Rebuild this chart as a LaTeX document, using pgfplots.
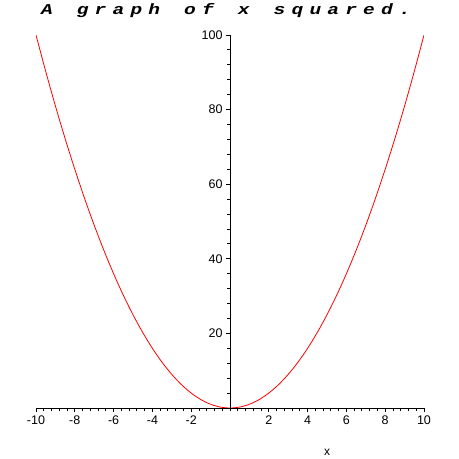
\documentclass[border=0pt]{standalone}
\usepackage{graphicx}
\usepackage{pgfplots}
\pgfplotsset{compat=1.18}
\usepackage{fontspec}
\setmainfont{Liberation Sans}
\newfontfamily\titlefont{Liberation Mono}
% one fixed-width cell per title character, glyphs widened a little
\newcommand\tc[1]{\makebox[17.9pt]{\scalebox{1.3}[1]{#1}}}

\begin{document}
\begin{tikzpicture}
\useasboundingbox (-36pt,-51pt) rectangle (423pt,408pt);
\begin{axis}[
  at={(0pt,0pt)}, anchor=south west,
  scale only axis, width=388pt, height=373pt,
  xmin=-10, xmax=10, ymin=0, ymax=100,
  axis lines=middle, axis line style={-, line width=0.9pt},
  axis on top,
  xtick={-10,-8,-6,-4,-2,2,4,6,8,10},
  xticklabels={-10,-8,-6,-4,-2,2,4,6,8,10},
  ytick={20,40,60,80,100},
  yticklabels={20,40,60,80,100},
  minor xtick={-9.6,-9.2,...,9.7},
  minor ytick={4,8,...,96},
  tick align=outside,
  major tick length=4pt, minor tick length=2.5pt,
  every tick/.style={black, line width=0.9pt},
  tick label style={font=\fontsize{12.5}{14}\selectfont},
]
\addplot[red, line width=0.8pt, smooth] coordinates {
  (-10,100) (-9.5,90.25) (-9,81) (-8.5,72.25) (-8,64) (-7.5,56.25)
  (-7,49) (-6.5,42.25) (-6,36) (-5.5,30.25) (-5,25) (-4.5,20.25)
  (-4,16) (-3.5,12.25) (-3,9) (-2.5,6.25) (-2,4) (-1.5,2.25)
  (-1,1) (-0.5,0.25) (0,0) (0.5,0.25) (1,1) (1.5,2.25) (2,4)
  (2.5,6.25) (3,9) (3.5,12.25) (4,16) (4.5,20.25) (5,25) (5.5,30.25)
  (6,36) (6.5,42.25) (7,49) (7.5,56.25) (8,64) (8.5,72.25) (9,81)
  (9.5,90.25) (10,100)
};
\end{axis}
\node[anchor=base west, inner sep=0pt, font=\fontsize{15}{18}\titlefont\bfseries\itshape]
  at (1.75pt,394pt) {\tc{A}\tc{}\tc{g}\tc{r}\tc{a}\tc{p}\tc{h}\tc{}\tc{o}\tc{f}\tc{}\tc{x}\tc{}\tc{s}\tc{q}\tc{u}\tc{a}\tc{r}\tc{e}\tc{d}\tc{.}};
\node[anchor=base, inner sep=0pt, font=\fontsize{12}{14}\selectfont] at (291pt,-47pt) {x};
\end{tikzpicture}
\end{document}
